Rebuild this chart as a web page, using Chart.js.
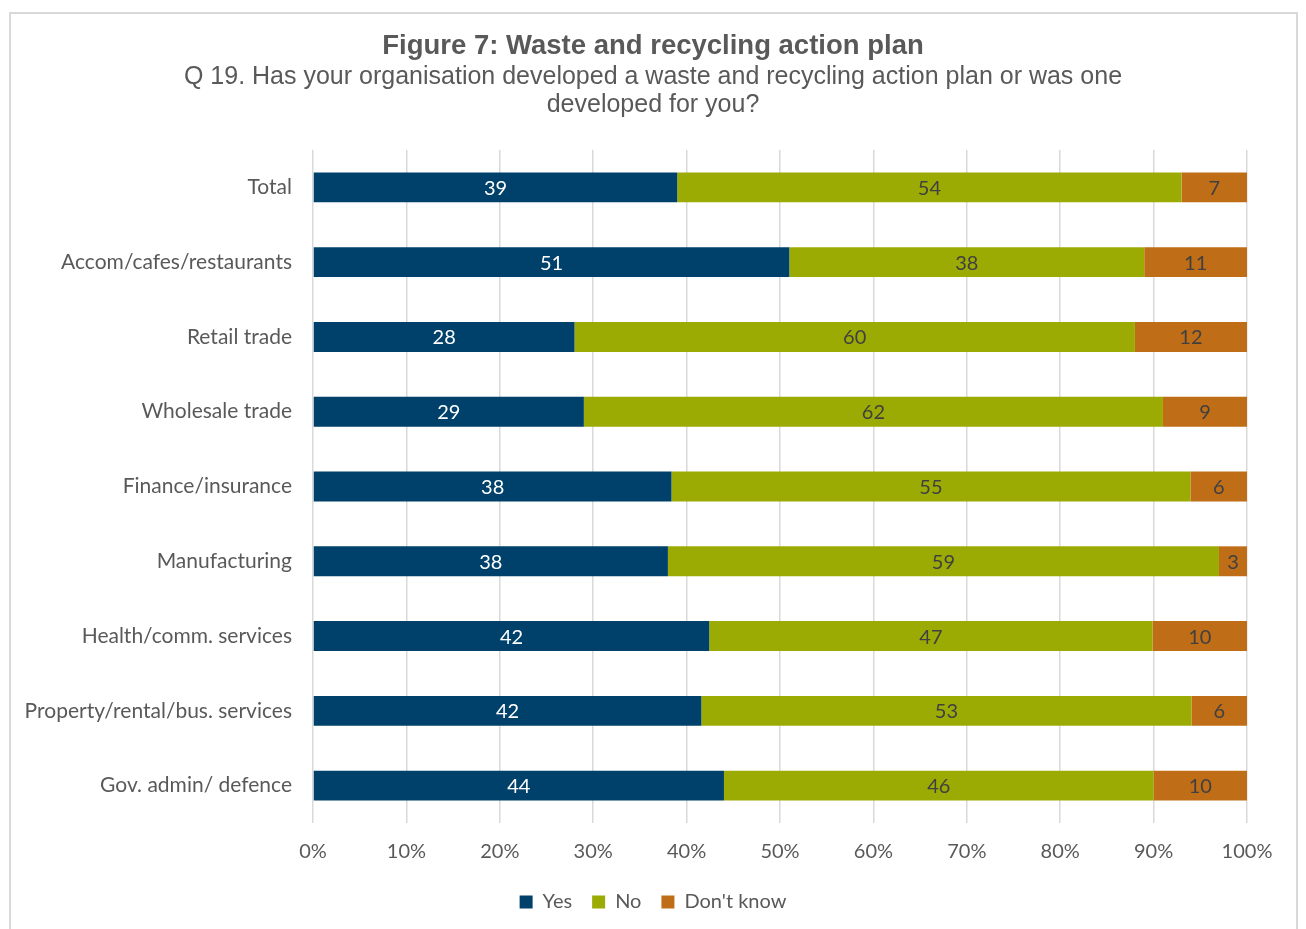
<!DOCTYPE html>
<html>
<head>
<meta charset="utf-8">
<script src="https://cdn.jsdelivr.net/npm/chart.js@4.4.0/dist/chart.umd.min.js"></script>
<style>
  html, body { margin: 0; padding: 0; background: #fff; }
  #frame { position: absolute; left: 9px; top: 12px; width: 1289px; height: 930px; border: 2px solid #d9d9d9; box-sizing: border-box; }
  #wrap { position: absolute; left: 0; top: 0; width: 1306px; height: 929px; }
</style>
</head>
<body>
<div id="frame"></div>
<div id="wrap"><canvas id="c" width="1306" height="929"></canvas></div>
<script>
const categories = ["Total", "Accom/cafes/restaurants", "Retail trade", "Wholesale trade", "Finance/insurance", "Manufacturing", "Health/comm. services", "Property/rental/bus. services", "Gov. admin/ defence"];
const yesValues = [39, 51, 28, 29, 38, 38, 42, 42, 44];
const noValues = [54, 38, 60, 62, 55, 59, 47, 53, 46];
const dontKnowValues = [7, 11, 12, 9, 6, 3, 10, 6, 10];
const seriesNames = ["Yes", "No", "Don't know"];
const xTickLabels = ["0%", "10%", "20%", "30%", "40%", "50%", "60%", "70%", "80%", "90%", "100%"];

const raw = [yesValues, noValues, dontKnowValues];
const totals = categories.map((_, i) => raw.reduce((s, arr) => s + arr[i], 0));
const share = arr => arr.map((v, i) => v / totals[i] * 100);

const colors = ["#00416b", "#9cab04", "#c06d17"];
const labelColors = ["#ffffff", "#404040", "#404040"];
const labelFont = "Lato";

const dataLabels = {
  id: "dataLabels",
  afterDatasetsDraw(chart) {
    const ctx = chart.ctx;
    ctx.save();
    ctx.font = "20px " + labelFont;
    ctx.textAlign = "center";
    ctx.textBaseline = "middle";
    chart.data.datasets.forEach((ds, di) => {
      const meta = chart.getDatasetMeta(di);
      meta.data.forEach((el, i) => {
        ctx.fillStyle = labelColors[di];
        ctx.fillText(String(raw[di][i]), (el.x + el.base) / 2, el.y + 1);
      });
    });
    ctx.restore();
  }
};

new Chart(document.getElementById("c"), {
  type: "bar",
  data: {
    labels: categories,
    datasets: raw.map((arr, k) => ({
      label: seriesNames[k],
      data: share(arr),
      backgroundColor: colors[k],
      borderWidth: 0,
      barPercentage: 0.8,
      categoryPercentage: 0.5
    }))
  },
  options: {
    indexAxis: "y",
    responsive: false,
    animation: false,
    devicePixelRatio: 1,
    layout: { padding: { left: 0, right: 0, top: 0, bottom: 7 } },
    scales: {
      x: {
        stacked: true,
        min: 0, max: 100,
        ticks: {
          stepSize: 10,
          color: "#595959",
          font: { family: labelFont, size: 20 },
          padding: 17,
          callback: (v, i) => xTickLabels[i]
        },
        grid: { color: "#d9d9d9", lineWidth: 1.5, drawTicks: false },
        border: { display: false },
        afterFit(scale) { scale.height = 49; }
      },
      y: {
        stacked: true,
        ticks: {
          color: "#595959",
          font: { family: labelFont, size: 21 },
          padding: 21
        },
        grid: { display: false, drawTicks: false },
        border: { display: false },
        afterFit(scale) { scale.width = 313; }
      },
      yRight: {
        type: "category",
        position: "right",
        display: true,
        ticks: { display: false },
        grid: { display: false, drawTicks: false },
        border: { display: false },
        afterFit(scale) { scale.width = 59; }
      }
    },
    plugins: {
      title: {
        display: true,
        text: "Figure 7: Waste and recycling action plan",
        color: "#595959",
        font: { family: "Liberation Sans", size: 27.5, weight: "bold" },
        padding: { top: 30, bottom: 0 }
      },
      subtitle: {
        display: true,
        text: ["Q 19. Has your organisation developed a waste and recycling action plan or was one", "developed for you?"],
        color: "#595959",
        font: { family: "Liberation Sans", size: 25, lineHeight: 1.12 },
        padding: { top: 0, bottom: 31 }
      },
      legend: {
        position: "bottom",
        labels: {
          color: "#595959",
          font: { family: labelFont, size: 20 },
          boxWidth: 13,
          boxHeight: 13,
          padding: 20
        }
      },
      tooltip: { enabled: false }
    }
  },
  plugins: [dataLabels]
});
</script>
</body>
</html>
